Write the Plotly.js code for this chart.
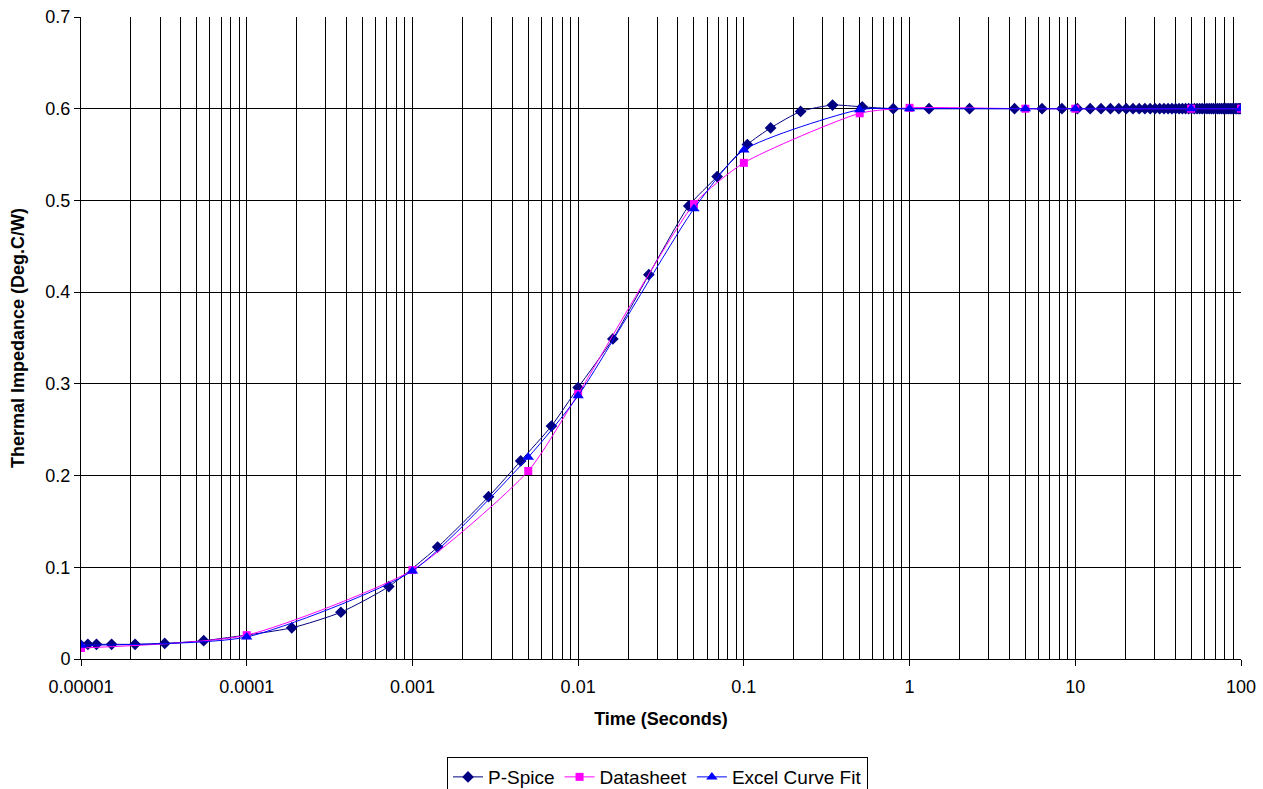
<!DOCTYPE html>
<html>
<head>
<meta charset="utf-8">
<script src="https://cdn.plot.ly/plotly-3.0.1.min.js"></script>
<style>
html,body{margin:0;padding:0;background:#fff;}
#chart{width:1263px;height:789px;}
</style>
</head>
<body>
<div id="chart"></div>
<script>
// P-Spice simulation (time in seconds, thermal impedance in deg C/W)
var pspiceTime = [0.00001, 0.000011, 0.0000124, 0.0000153, 0.0000212, 0.000032, 0.000055,
  0.000187, 0.00037, 0.00072, 0.00142, 0.00288, 0.0045, 0.0069, 0.01, 0.0162, 0.0267,
  0.0465, 0.069, 0.105, 0.145, 0.22, 0.343, 0.518, 0.797, 1.31,
  2.3, 4.3, 6.3, 8.3, 10.3, 12.3, 14.3, 16.3, 18.3, 20.3, 22.3, 24.3, 26.3, 28.3, 30.3,
  32.3, 34.3, 36.3, 38.3, 40.3, 42.3, 44.3, 46.3, 48.3, 50.3, 52.3, 54.3, 56.3, 58.3,
  60.3, 62.3, 64.3, 66.3, 68.3, 70.3, 72.3, 74.3, 76.3, 78.3, 80.3, 82.3, 84.3, 86.3,
  88.3, 90.3, 92.3, 94.3, 96.3, 98.3, 100];
var pspiceZ = [0.015, 0.016, 0.016, 0.016, 0.016, 0.017, 0.020,
  0.034, 0.051, 0.079, 0.122, 0.177, 0.216, 0.254, 0.296, 0.349, 0.419,
  0.494, 0.526, 0.561, 0.579, 0.597, 0.604, 0.602, 0.600, 0.600,
  0.600, 0.600, 0.600, 0.600, 0.600, 0.600, 0.600, 0.600, 0.600, 0.600, 0.600, 0.600, 0.600, 0.600, 0.600,
  0.600, 0.600, 0.600, 0.600, 0.600, 0.600, 0.600, 0.600, 0.600, 0.600, 0.600, 0.600, 0.600, 0.600,
  0.600, 0.600, 0.600, 0.600, 0.600, 0.600, 0.600, 0.600, 0.600, 0.600, 0.600, 0.600, 0.600, 0.600,
  0.600, 0.600, 0.600, 0.600, 0.600, 0.600, 0.600];

// Datasheet curve
var sheetTime = [0.00001, 0.0001, 0.001, 0.005, 0.01, 0.05, 0.1, 0.5, 1, 5, 10, 50, 100];
var sheetZ    = [0.012, 0.026, 0.097, 0.205, 0.289, 0.496, 0.541, 0.595, 0.601, 0.600, 0.600, 0.600, 0.600];

// Excel curve fit
var fitTime = [0.00001, 0.0001, 0.001, 0.005, 0.01, 0.05, 0.1, 0.5, 1, 5, 10, 50, 100];
var fitZ    = [0.015, 0.024, 0.096, 0.220, 0.287, 0.491, 0.555, 0.599, 0.600, 0.600, 0.600, 0.600, 0.600];

// Axis tick labels
var xTickVals = [0.00001, 0.0001, 0.001, 0.01, 0.1, 1, 10, 100];
var xTickText = ['0.00001', '0.0001', '0.001', '0.01', '0.1', '1', '10', '100'];

var FONT = 'Liberation Sans, Arial, sans-serif';

var traces = [
  {
    x: pspiceTime, y: pspiceZ, name: 'P-Spice', type: 'scatter', mode: 'lines+markers',
    line: {color: '#000080', width: 1, shape: 'spline', smoothing: 0.6},
    marker: {symbol: 'diamond', size: 9, color: '#000080'}
  },
  {
    x: sheetTime, y: sheetZ, name: 'Datasheet', type: 'scatter', mode: 'lines+markers',
    line: {color: '#FF00FF', width: 1, shape: 'spline', smoothing: 0.6},
    marker: {symbol: 'square', size: 8, color: '#FF00FF'}
  },
  {
    x: fitTime, y: fitZ, name: 'Excel Curve Fit', type: 'scatter', mode: 'lines+markers',
    line: {color: '#0000FF', width: 1, shape: 'spline', smoothing: 0.6},
    marker: {symbol: 'triangle-up', size: 10, color: '#0000FF'}
  }
];

var layout = {
  width: 1263, height: 789,
  paper_bgcolor: '#ffffff', plot_bgcolor: '#ffffff',
  margin: {l: 81, r: 22, t: 17, b: 130, pad: 0, autoexpand: false},
  font: {family: FONT, size: 18, color: '#000'},
  showlegend: true,
  hovermode: false,
  xaxis: {
    type: 'log', range: [-5, 2], automargin: false,
    tickmode: 'array', tickvals: xTickVals, ticktext: xTickText,
    ticks: 'outside', ticklen: 6, tickcolor: '#000', tickwidth: 1,
    ticklabelstandoff: 5,
    showgrid: true, gridcolor: '#000', gridwidth: 1,
    minor: {dtick: 'D1', showgrid: true, gridcolor: '#000', gridwidth: 1, ticks: ''},
    showline: true, linecolor: '#000', linewidth: 1,
    zeroline: false,
    tickfont: {family: FONT, size: 18, color: '#000'},
    title: {text: 'Time (Seconds)', font: {family: FONT, size: 18, color: '#000', weight: 'bold'}, standoff: 16}
  },
  yaxis: {
    range: [0, 0.7], dtick: 0.1, tick0: 0, automargin: false,
    ticks: 'outside', ticklen: 6, tickcolor: '#000', tickwidth: 1,
    showgrid: true, gridcolor: '#000', gridwidth: 1,
    showline: true, linecolor: '#000', linewidth: 1,
    zeroline: false,
    tickfont: {family: FONT, size: 18, color: '#000'},
    title: {text: 'Thermal Impedance (Deg.C/W)', font: {family: FONT, size: 18, color: '#000', weight: 'bold'}, standoff: 16}
  },
  legend: {
    orientation: 'h', x: 0.497, xanchor: 'center', y: -0.1527, yanchor: 'top',
    bordercolor: '#000', borderwidth: 1, bgcolor: '#fff',
    font: {family: FONT, size: 19, color: '#000'},
    itemwidth: 30, tracegroupgap: 0
  }
};

Plotly.newPlot('chart', traces, layout, {displayModeBar: false, staticPlot: true});
</script>
</body>
</html>
